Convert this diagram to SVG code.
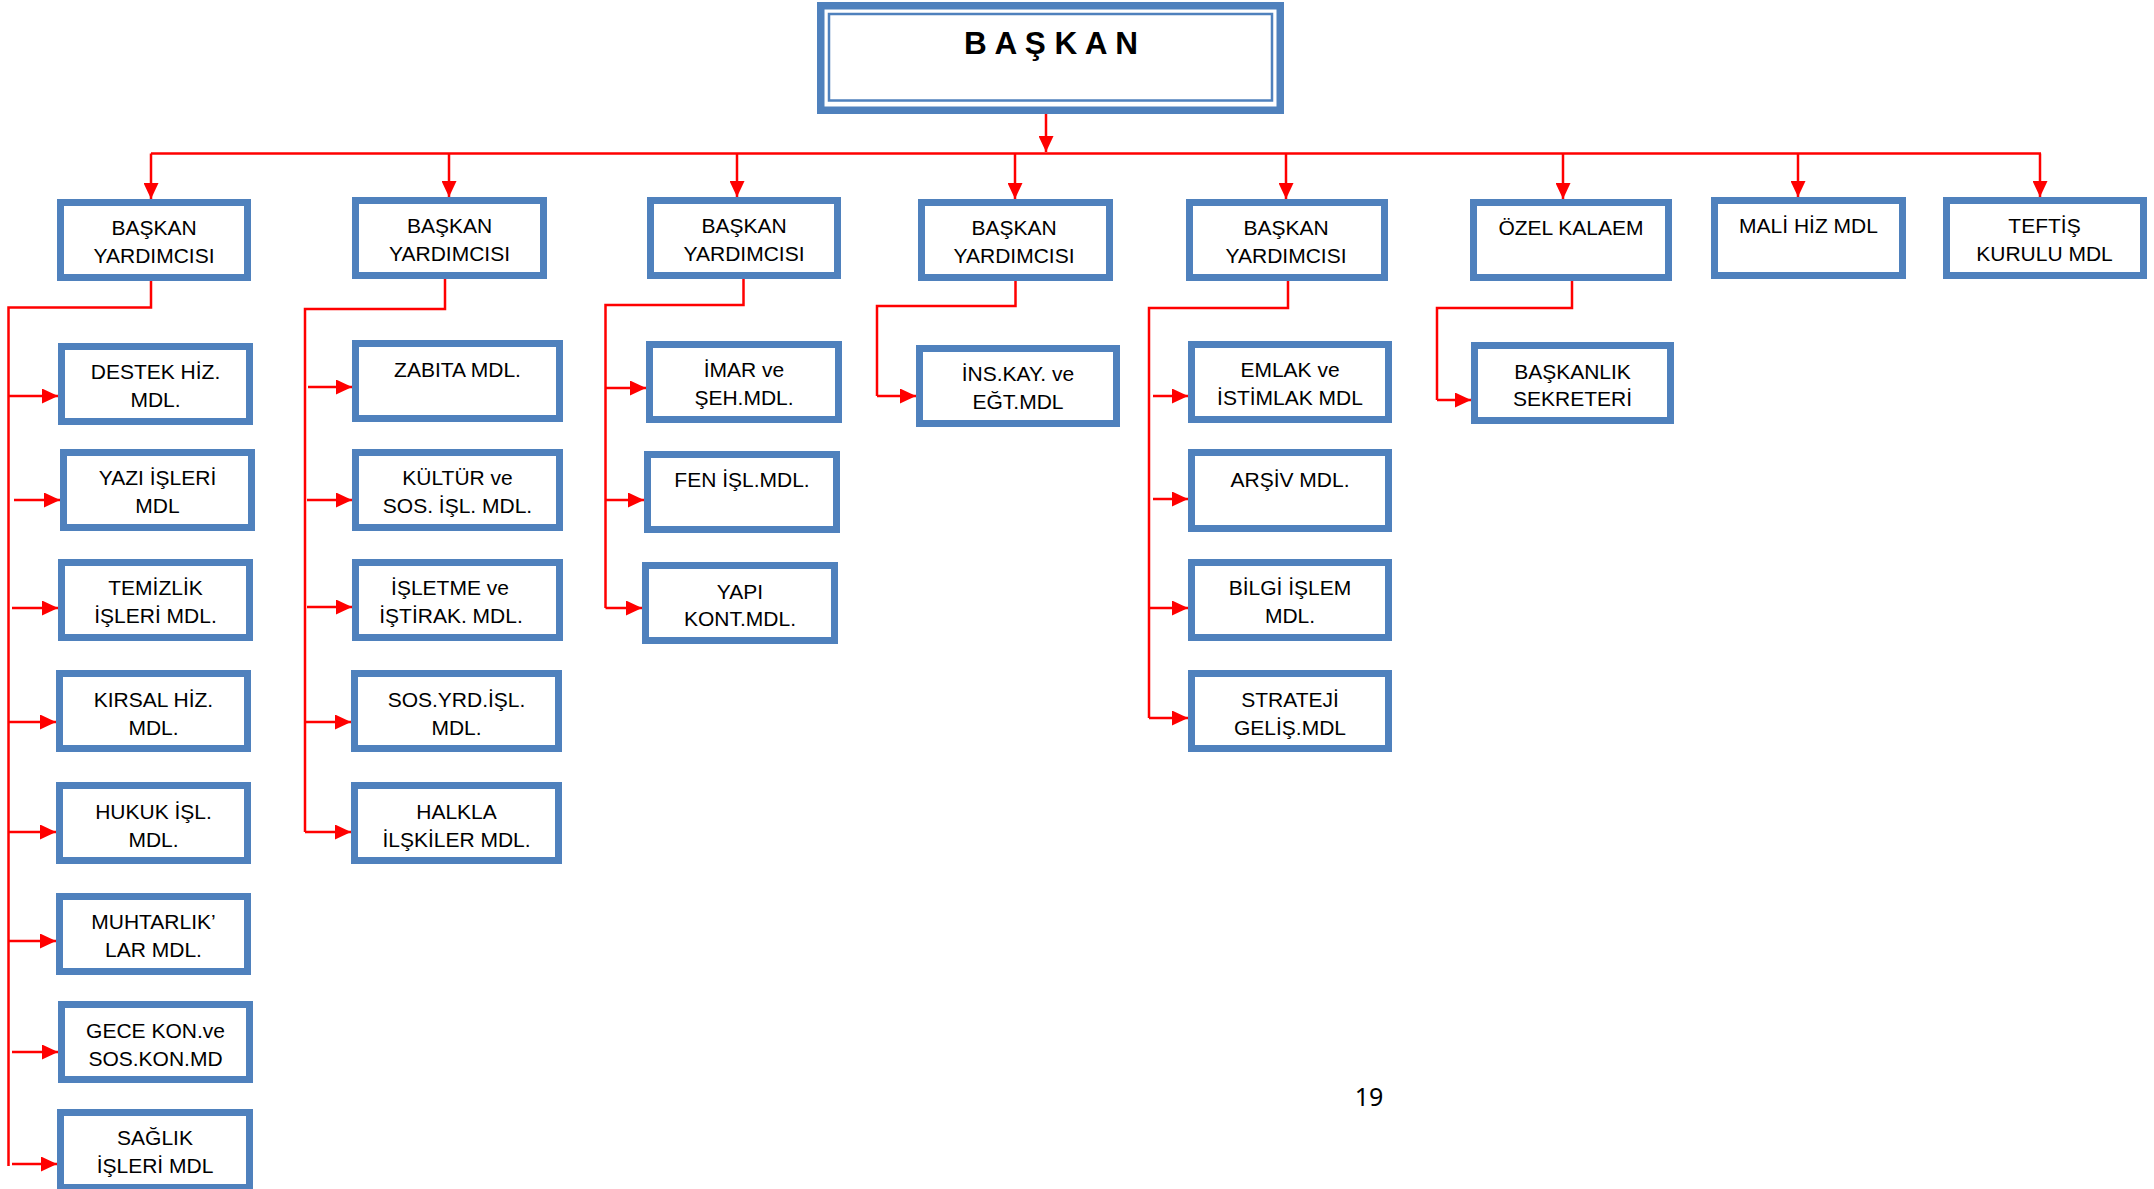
<svg xmlns="http://www.w3.org/2000/svg" width="2154" height="1189" viewBox="0 0 2154 1189">
<style>
.box{fill:#fff;stroke:#4F81BD;stroke-width:7}
.t{font-family:"Liberation Sans",Arial,sans-serif;font-size:21px;fill:#000;text-anchor:middle}
.c{fill:none;stroke:#FF0000;stroke-width:2.5}
.a{fill:none;stroke:#FF0000;stroke-width:2.5;marker-end:url(#ah)}
</style>
<defs>
<marker id="ah" markerUnits="userSpaceOnUse" markerWidth="16" markerHeight="15" viewBox="0 0 16 15" refX="16" refY="7.5" orient="auto">
<path d="M0,0 L16,7.5 L0,15 Z" fill="#FF0000"/>
</marker>
</defs>
<rect width="2154" height="1189" fill="#fff"/>

<g id="connectors">
<!-- top level -->
<path class="a" d="M1046,114 V152"/>
<path class="c" d="M151,153.5 H2041"/>
<path class="a" d="M151,153.5 V199"/>
<path class="a" d="M449,153.5 V197"/>
<path class="a" d="M737,153.5 V197"/>
<path class="a" d="M1015,153.5 V199"/>
<path class="a" d="M1286,153.5 V199"/>
<path class="a" d="M1563,153.5 V199"/>
<path class="a" d="M1798,153.5 V197"/>
<path class="a" d="M2040,153.5 V197"/>
<!-- col 1 -->
<path class="c" d="M151,281 V307.5 H8.5 V1166"/>
<path class="a" d="M8.5,396 H58"/>
<path class="a" d="M14,500 H60"/>
<path class="a" d="M12,608 H58"/>
<path class="a" d="M8.5,722 H56"/>
<path class="a" d="M8.5,832 H56"/>
<path class="a" d="M8.5,941 H56"/>
<path class="a" d="M12,1052 H58"/>
<path class="a" d="M12,1164 H57"/>
<!-- col 2 -->
<path class="c" d="M445,279 V309 H305 V832"/>
<path class="a" d="M308,387 H352"/>
<path class="a" d="M307,500 H352"/>
<path class="a" d="M307,607 H352"/>
<path class="a" d="M305,722 H351"/>
<path class="a" d="M305,832 H351"/>
<!-- col 3 -->
<path class="c" d="M743.5,279 V305 H605.5 V608"/>
<path class="a" d="M605.5,388 H646"/>
<path class="a" d="M605.5,500 H644"/>
<path class="a" d="M605.5,608 H642"/>
<!-- col 4 -->
<path class="c" d="M1015.5,281 V306 H877 V396"/>
<path class="a" d="M877,396 H916"/>
<!-- col 5 -->
<path class="c" d="M1288,281 V308 H1149 V718"/>
<path class="a" d="M1153,396 H1188"/>
<path class="a" d="M1153,499 H1188"/>
<path class="a" d="M1149,608 H1188"/>
<path class="a" d="M1149,718 H1188"/>
<!-- col 6 -->
<path class="c" d="M1572,281 V308 H1437 V400"/>
<path class="a" d="M1437,400 H1471"/>
</g>

<g id="baskan">
<rect x="820.75" y="5.75" width="459.5" height="104.5" fill="#fff" stroke="#4F81BD" stroke-width="7.5"/>
<rect x="829" y="14" width="443" height="86.5" fill="none" stroke="#4F81BD" stroke-width="2.5"/>
<text x="1051" y="54" font-family="'Liberation Sans',Arial,sans-serif" font-size="31.5" font-weight="bold" text-anchor="middle" fill="#000">B A Ş K A N</text>
</g>

<g id="by1"><rect class="box" x="60.5" y="202.5" width="187" height="75"/><text class="t" x="154" y="235">BAŞKAN</text><text class="t" x="154" y="263">YARDIMCISI</text></g>
<g id="by2"><rect class="box" x="355.5" y="200.5" width="188" height="75"/><text class="t" x="449.5" y="233">BAŞKAN</text><text class="t" x="449.5" y="261">YARDIMCISI</text></g>
<g id="by3"><rect class="box" x="650.5" y="200.5" width="187" height="75"/><text class="t" x="744" y="233">BAŞKAN</text><text class="t" x="744" y="261">YARDIMCISI</text></g>
<g id="by4"><rect class="box" x="921.5" y="202.5" width="188" height="75"/><text class="t" x="1014" y="235">BAŞKAN</text><text class="t" x="1014" y="263">YARDIMCISI</text></g>
<g id="by5"><rect class="box" x="1189.5" y="202.5" width="195" height="75"/><text class="t" x="1286" y="235">BAŞKAN</text><text class="t" x="1286" y="263">YARDIMCISI</text></g>
<g id="ozel"><rect class="box" x="1473.5" y="202.5" width="195" height="75"/><text class="t" x="1571" y="235">ÖZEL KALAEM</text></g>
<g id="mali"><rect class="box" x="1714.5" y="200.5" width="188" height="75"/><text class="t" x="1808.5" y="233">MALİ HİZ MDL</text></g>
<g id="teftis"><rect class="box" x="1946.5" y="200.5" width="197" height="75"/><text class="t" x="2044.5" y="233">TEFTİŞ</text><text class="t" x="2044.5" y="261">KURULU MDL</text></g>

<g id="destek"><rect class="box" x="61.5" y="346.5" width="188" height="75"/><text class="t" x="155.5" y="379">DESTEK HİZ.</text><text class="t" x="155.5" y="407">MDL.</text></g>
<g id="yazi"><rect class="box" x="63.5" y="452.5" width="188" height="75"/><text class="t" x="157.5" y="485">YAZI İŞLERİ</text><text class="t" x="157.5" y="513">MDL</text></g>
<g id="temizlik"><rect class="box" x="61.5" y="562.5" width="188" height="75"/><text class="t" x="155.5" y="595">TEMİZLİK</text><text class="t" x="155.5" y="623">İŞLERİ MDL.</text></g>
<g id="kirsal"><rect class="box" x="59.5" y="673.5" width="188" height="75"/><text class="t" x="153.5" y="706.5">KIRSAL HİZ.</text><text class="t" x="153.5" y="734.5">MDL.</text></g>
<g id="hukuk"><rect class="box" x="59.5" y="785.5" width="188" height="75"/><text class="t" x="153.5" y="818.5">HUKUK İŞL.</text><text class="t" x="153.5" y="846.5">MDL.</text></g>
<g id="muhtarlik"><rect class="box" x="59.5" y="896.5" width="188" height="75"/><text class="t" x="153.5" y="929">MUHTARLIK’</text><text class="t" x="153.5" y="957">LAR MDL.</text></g>
<g id="gece"><rect class="box" x="61.5" y="1004.5" width="188" height="75"/><text class="t" x="155.5" y="1038">GECE KON.ve</text><text class="t" x="155.5" y="1066">SOS.KON.MD</text></g>
<g id="saglik"><rect class="box" x="60.5" y="1112.5" width="189" height="75"/><text class="t" x="155" y="1145">SAĞLIK</text><text class="t" x="155" y="1173">İŞLERİ MDL</text></g>

<g id="zabita"><rect class="box" x="355.5" y="343.5" width="204" height="75"/><text class="t" x="457.5" y="377">ZABITA MDL.</text></g>
<g id="kultur"><rect class="box" x="355.5" y="452.5" width="204" height="75"/><text class="t" x="457.5" y="485">KÜLTÜR ve</text><text class="t" x="457.5" y="513">SOS. İŞL. MDL.</text></g>
<g id="isletme"><rect class="box" x="355.5" y="562.5" width="204" height="75"/><text class="t" x="450" y="595">İŞLETME ve</text><text class="t" x="451" y="623">İŞTİRAK. MDL.</text></g>
<g id="sosyrd"><rect class="box" x="354.5" y="673.5" width="204" height="75"/><text class="t" x="456.5" y="706.5">SOS.YRD.İŞL.</text><text class="t" x="456.5" y="734.5">MDL.</text></g>
<g id="halkla"><rect class="box" x="354.5" y="785.5" width="204" height="75"/><text class="t" x="456.5" y="819">HALKLA</text><text class="t" x="456.5" y="847">İLŞKİLER MDL.</text></g>

<g id="imar"><rect class="box" x="649.5" y="344.5" width="189" height="75"/><text class="t" x="744" y="377">İMAR ve</text><text class="t" x="744" y="405">ŞEH.MDL.</text></g>
<g id="fen"><rect class="box" x="647.5" y="454.5" width="189" height="75"/><text class="t" x="742" y="487">FEN İŞL.MDL.</text></g>
<g id="yapi"><rect class="box" x="645.5" y="565.5" width="189" height="75"/><text class="t" x="740" y="598.5">YAPI</text><text class="t" x="740" y="626">KONT.MDL.</text></g>

<g id="inskay"><rect class="box" x="919.5" y="348.5" width="197" height="75"/><text class="t" x="1018" y="381">İNS.KAY. ve</text><text class="t" x="1018" y="408.5">EĞT.MDL</text></g>

<g id="emlak"><rect class="box" x="1191.5" y="344.5" width="197" height="75"/><text class="t" x="1290" y="377">EMLAK ve</text><text class="t" x="1290" y="405">İSTİMLAK MDL</text></g>
<g id="arsiv"><rect class="box" x="1191.5" y="452.5" width="197" height="76"/><text class="t" x="1290" y="487">ARŞİV MDL.</text></g>
<g id="bilgi"><rect class="box" x="1191.5" y="562.5" width="197" height="75"/><text class="t" x="1290" y="595">BİLGİ İŞLEM</text><text class="t" x="1290" y="623">MDL.</text></g>
<g id="strateji"><rect class="box" x="1191.5" y="673.5" width="197" height="75"/><text class="t" x="1290" y="706.5">STRATEJİ</text><text class="t" x="1290" y="735">GELİŞ.MDL</text></g>

<g id="sekreter"><rect class="box" x="1474.5" y="345.5" width="196" height="75"/><text class="t" x="1572.5" y="378.5">BAŞKANLIK</text><text class="t" x="1572.5" y="406">SEKRETERİ</text></g>

<text id="page" x="1369" y="1106" font-family="'Noto Sans',sans-serif" font-size="25" text-anchor="middle" fill="#000">19</text>
</svg>
